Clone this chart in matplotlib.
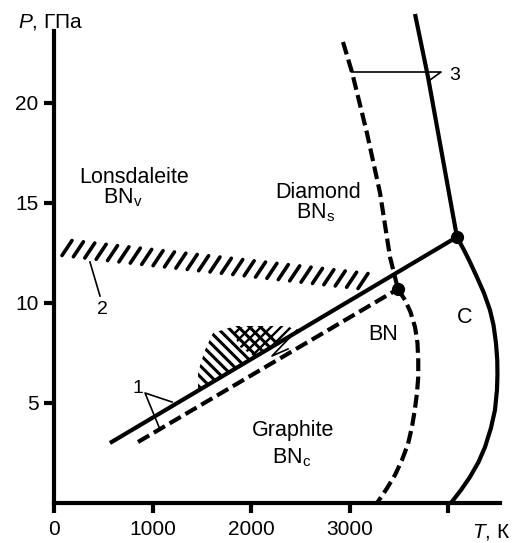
import matplotlib
matplotlib.use("Agg")
import matplotlib.pyplot as plt
import numpy as np
from matplotlib.patches import Polygon

plt.rcParams['font.family'] = ['Liberation Sans', 'DejaVu Sans']
plt.rcParams['mathtext.fontset'] = 'custom'
plt.rcParams['mathtext.rm'] = 'Liberation Sans'
plt.rcParams['mathtext.it'] = 'Liberation Sans:italic'

# ---------------- data (T in K, P in GPa) ----------------
# carbon: graphite-diamond boundary (solid)
c_gd_T = [568, 4091]
c_gd_P = [3.0, 13.3]
# carbon: diamond melting (solid)
c_dm_T = [3665, 3797, 4091]
c_dm_P = [24.45, 21.3, 13.3]
# carbon: graphite melting (solid)
c_gm_T = [4091, 4162, 4213, 4284, 4365, 4426, 4462, 4487, 4500, 4502, 4497,
          4477, 4436, 4376, 4310, 4223, 4132, 4030]
c_gm_P = [13.3, 12.65, 12.15, 11.4, 10.5, 9.65, 8.9, 8.0, 7.15, 6.4, 5.65,
          4.65, 3.75, 2.8, 2.05, 1.3, 0.65, 0.0]
# BN: graphite-like / diamond-like boundary (dashed)
bn_gd_T = [853, 3492]
bn_gd_P = [3.05, 10.7]
# BN: sphalerite melting (dashed)
bn_dm_T = [2934, 3025, 3177, 3310, 3411, 3492]
bn_dm_P = [23.05, 21.55, 18.5, 15.5, 12.3, 10.7]
# BN: graphite-like melting (dashed)
bn_gm_T = [3492, 3563, 3619, 3665, 3690, 3698, 3698, 3685, 3663, 3634, 3594,
           3533, 3462, 3376, 3279]
bn_gm_P = [10.7, 10.15, 9.55, 8.8, 8.0, 7.15, 6.3, 5.5, 4.65, 3.8, 2.95,
           2.15, 1.4, 0.7, 0.0]
# triple points
tp_T = [4091, 3492]
tp_P = [13.3, 10.7]
# lonsdaleite band (2)
band_T = [132, 3137]
band_P = [12.75, 11.1]
band_n = 27
# hatched areas (1)
hatchA_T = [1462, 1462, 1533, 1614, 1838, 2173, 2294]
hatchA_P = [5.6, 6.55, 7.65, 8.5, 8.85, 8.85, 8.03]
hatchB_T = [1807, 1939, 2376, 2467, 2041, 1888]
hatchB_P = [8.6, 8.85, 8.85, 8.55, 7.3, 7.8]
# leaders
lead3_T = [3025, 3929, 3817]
lead3_P = [21.55, 21.55, 21.15]
lead2_T = [365, 467]
lead2_P = [12.05, 10.35]
lead1a_T = [1198, 924, 1066]
lead1a_P = [5.05, 5.5, 3.8]
lead1b_T = [2467, 2213, 2376]
lead1b_P = [8.65, 7.35, 7.7]

x_ticks = [0, 1000, 2000, 3000, 4000]
x_labels = ['0', '1000', '2000', '3000', '']
y_ticks = [5, 10, 15, 20]
y_labels = ['5', '10', '15', '20']

# ---------------- figure ----------------
W, H = 515, 543
fig = plt.figure(figsize=(W / 100, H / 100), dpi=100)
ax_l, ax_r, ax_b, ax_t = 54, 500, 503, 10
ax = fig.add_axes([ax_l / W, (H - ax_b) / H, (ax_r - ax_l) / W, (ax_b - ax_t) / H])
xmax = (ax_r - ax_l) / 98.5 * 1000
ymax = (ax_b - ax_t) / 20.0
ax.set_xlim(0, xmax)
ax.set_ylim(0, ymax)
sx = (ax_r - ax_l) / xmax   # px per K
sy = (ax_b - ax_t) / ymax   # px per GPa

for s in ['top', 'right']:
    ax.spines[s].set_visible(False)
for s in ['left', 'bottom']:
    ax.spines[s].set_linewidth(3.0)
ax.spines['left'].set_bounds(0, 23.6)
ax.set_xticks(x_ticks)
ax.set_xticklabels(x_labels)
ax.set_yticks(y_ticks)
ax.set_yticklabels(y_labels)
ax.tick_params(direction='out', length=7, width=3, labelsize=15, pad=4)
ax.tick_params(axis='x', pad=5)

lw = 3.0
dash = (0, (3.1, 1.3))
ax.plot(c_gd_T, c_gd_P, color='black', lw=lw, solid_capstyle='butt')
ax.plot(c_dm_T, c_dm_P, color='black', lw=lw, solid_capstyle='butt')
ax.plot(c_gm_T, c_gm_P, color='black', lw=lw, solid_capstyle='butt',
        solid_joinstyle='round')
ax.plot(bn_gd_T, bn_gd_P, color='black', lw=lw, linestyle=dash)
ax.plot(bn_dm_T, bn_dm_P, color='black', lw=lw, linestyle=dash)
ax.plot(bn_gm_T, bn_gm_P, color='black', lw=lw, linestyle=dash)
ax.plot(tp_T, tp_P, 'o', color='black', markersize=8.5, zorder=5)

# lonsdaleite band strokes
cT = np.linspace(band_T[0], band_T[1], band_n)
cP = np.linspace(band_P[0], band_P[1], band_n)
hx, hy = 5.0 / sx, 7.5 / sy
for t, p in zip(cT, cP):
    ax.plot([t - hx, t + hx], [p - hy, p + hy], color='black', lw=2.6,
            solid_capstyle='round')


def hatch(poly_T, poly_P, kind, spacing=9.5, lwh=2.0):
    poly = Polygon(np.column_stack([poly_T, poly_P]), closed=True,
                   facecolor='none', edgecolor='none', transform=ax.transData)
    ax.add_patch(poly)
    X = np.array(poly_T) * sx
    Y = np.array(poly_P) * sy
    c = X + Y if kind == '\\' else X - Y
    tt = np.array([min(poly_T) - 300, max(poly_T) + 300])
    for cc in np.arange(c.min() + spacing / 2, c.max(), spacing):
        if kind == '\\':
            pp = (cc - tt * sx) / sy
        else:
            pp = (tt * sx - cc) / sy
        ln, = ax.plot(tt, pp, color='black', lw=lwh, solid_capstyle='butt')
        ln.set_clip_path(poly)


hatch(hatchA_T, hatchA_P, '\\', spacing=11.0, lwh=2.2)
hatch(hatchB_T, hatchB_P, '/', spacing=10.0, lwh=1.7)

# leaders
for lt, lp in [(lead3_T, lead3_P), (lead2_T, lead2_P), (lead1a_T, lead1a_P), (lead1b_T, lead1b_P)]:
    ax.plot(lt, lp, color='black', lw=1.2)

# labels
fs = 15.5
ax.text(812, 16.0, 'Lonsdaleite', ha='center', va='baseline', fontsize=fs)
ax.text(700, 14.97, r'BN$_\mathrm{v}$', ha='center', va='baseline', fontsize=fs)
ax.text(2680, 15.25, 'Diamond', ha='center', va='baseline', fontsize=fs)
ax.text(2660, 14.25, r'BN$_\mathrm{s}$', ha='center', va='baseline', fontsize=fs)
ax.text(2431, 3.35, 'Graphite', ha='center', va='baseline', fontsize=fs)
ax.text(2411, 2.0, r'BN$_\mathrm{c}$', ha='center', va='baseline', fontsize=fs)
ax.text(3339, 8.15, 'BN', ha='center', va='baseline', fontsize=fs)
ax.text(4172, 9.0, 'C', ha='center', va='baseline', fontsize=fs)
ax.text(4070, 21.15, '3', ha='center', va='baseline', fontsize=14)
ax.text(487, 9.45, '2', ha='center', va='baseline', fontsize=14)
ax.text(848, 5.5, '1', ha='center', va='baseline', fontsize=14)

fig.text(18 / W, 1 - 27 / H, r'$P$, ГПа', ha='left', va='baseline', fontsize=15)
fig.text(510 / W, 1 - 537 / H, r'$T$, К', ha='right', va='baseline', fontsize=15)

fig.savefig('out.png', dpi=100)
